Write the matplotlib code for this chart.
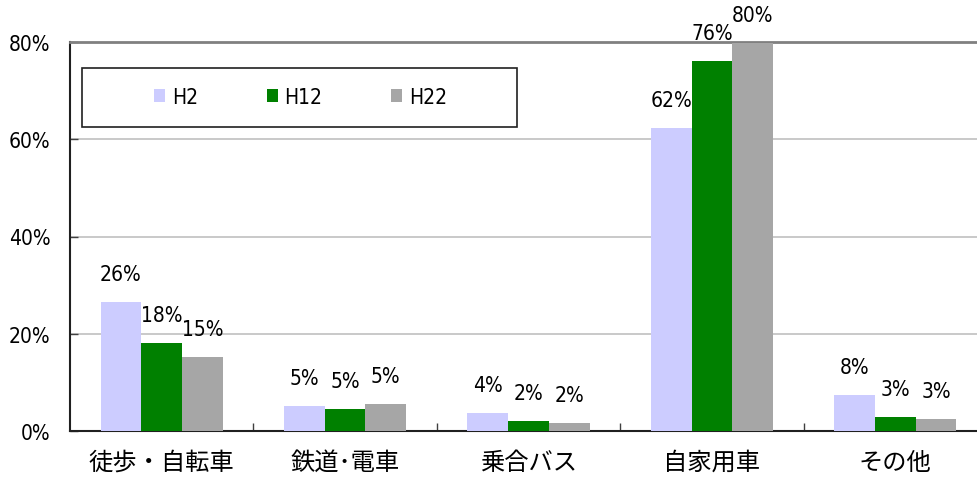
import matplotlib
matplotlib.use("Agg")
import matplotlib.pyplot as plt
import numpy as np
from matplotlib.patches import Patch, Rectangle
from matplotlib.ticker import FixedLocator
from matplotlib.font_manager import FontProperties

plt.rcParams['font.family'] = ['Noto Sans CJK JP', 'DejaVu Sans']

categories = ["徒歩・自転車", "鉄道･電車", "乗合バス", "自家用車", "その他"]
series_names = ["H2", "H12", "H22"]
h2 = [26.5, 5.1, 3.8, 62.3, 7.5]
h12 = [18.0, 4.5, 2.1, 76.1, 2.9]
h22 = [15.2, 5.5, 1.6, 79.7, 2.5]
labels_h2 = ["26%", "5%", "4%", "62%", "8%"]
labels_h12 = ["18%", "5%", "2%", "76%", "3%"]
labels_h22 = ["15%", "5%", "2%", "80%", "3%"]
colors = ["#ccccff", "#008000", "#a6a6a6"]
yticks = [0, 20, 40, 60, 80]
ytick_labels = ["0%", "20%", "40%", "60%", "80%"]

numfp = FontProperties(family='DejaVu Sans', stretch='condensed', size=15)

W, H = 977, 481
fig = plt.figure(figsize=(W / 100, H / 100), dpi=100)
left, right, top, bottom = 70, 987, 43, 432
ax = fig.add_axes([left / W, (H - bottom) / H, (right - left) / W, (bottom - top) / H])

x = np.arange(len(categories))
bw = 0.222
series = [h2, h12, h22]
labs = [labels_h2, labels_h12, labels_h22]
for i, (vals, lab, c) in enumerate(zip(series, labs, colors)):
    pos = x + (i - 1) * bw
    ax.bar(pos, vals, width=bw, color=c, edgecolor='none', zorder=3)
    for px, v, t in zip(pos, vals, lab):
        ax.annotate(t, (px, v), xytext=(0, 28), textcoords='offset pixels',
                    ha='center', va='center', fontproperties=numfp, zorder=5,
                    annotation_clip=False)

ax.set_xlim(-0.5, len(categories) - 0.5)
ax.set_ylim(0, 80)
ax.set_yticks(yticks)
ax.set_yticklabels(ytick_labels, fontproperties=numfp)
ax.set_xticks(x)
ax.set_xticklabels(categories, fontsize=17.5)
ax.xaxis.set_minor_locator(FixedLocator(np.arange(0.5, len(categories) - 0.5, 1)))
ax.tick_params(axis='x', which='major', length=0, pad=13)
ax.tick_params(axis='x', which='minor', length=6, direction='in', width=1, color='#404040')
ax.tick_params(axis='y', which='major', length=6, direction='in', width=1, pad=14, color='#404040')

for yv in [20, 40, 60]:
    ax.axhline(yv, color='#c0c0c0', lw=1.2, zorder=1)
ax.spines['top'].set_color('#808080')
ax.spines['top'].set_linewidth(2)
ax.spines['right'].set_visible(False)
ax.spines['left'].set_color('#202020')
ax.spines['left'].set_linewidth(1.5)
ax.spines['bottom'].set_color('#202020')
ax.spines['bottom'].set_linewidth(1.5)

# legend box
lx0, ly0, lx1, ly1 = 82, 69, 517, 128
fig.patches.append(Rectangle((lx0 / W, (H - ly1) / H), (lx1 - lx0) / W, (ly1 - ly0) / H,
                             transform=fig.transFigure, facecolor='white',
                             edgecolor='#202020', lw=1.2, zorder=10))
handles = [Patch(facecolor=c, edgecolor='none') for c in colors]
legfp = FontProperties(family='DejaVu Sans', stretch='condensed', size=15)
leg = fig.legend(handles, series_names, loc='center left', ncol=3, frameon=False,
                 bbox_to_anchor=(154 / W, (H - 98) / H), prop=legfp,
                 handlelength=0.55, handleheight=0.55, handletextpad=0.3,
                 columnspacing=3.3, borderpad=0, borderaxespad=0)
leg.set_zorder(11)

fig.savefig("out.png", dpi=100)
